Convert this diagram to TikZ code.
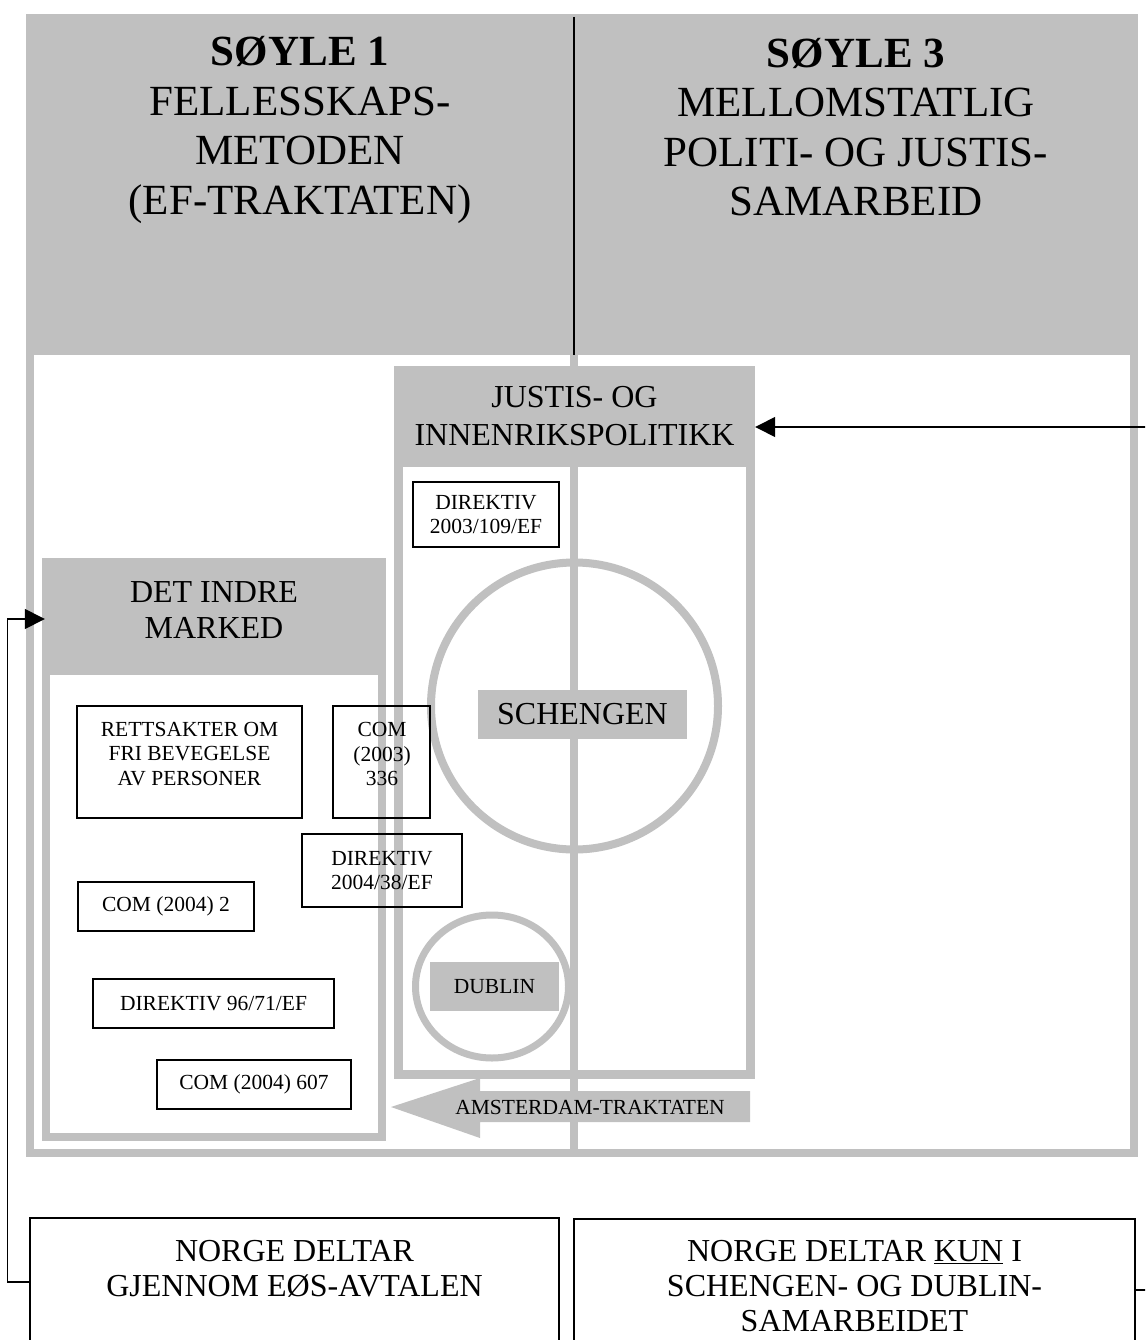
\documentclass[tikz,border=0pt]{standalone}
\usepackage{fontspec}
\setmainfont{Liberation Serif}
\usetikzlibrary{arrows.meta}
\definecolor{grayc}{HTML}{C0C0C0}
\begin{document}
\begin{tikzpicture}[x=1pt,y=-1pt,
  hdrtext/.style={align=center, font=\fontsize{43}{49.5}\selectfont, inner sep=0pt},
  midtext/.style={align=center, font=\fontsize{32}{36}\selectfont, inner sep=0pt},
  smalltext/.style={align=center, font=\fontsize{21.5}{24.5}\selectfont, inner sep=0pt},
  smallbox/.style={draw=black, line width=1.4pt, inner sep=0pt, smalltext},
  graylabel/.style={fill=grayc, inner sep=0pt},
  bigbox/.style={draw=black, line width=1.4pt, inner sep=0pt},
  gframe/.style={draw=grayc, line width=8pt},
  conn/.style={draw=black, line width=1.5pt, -{Triangle[length=20pt,width=20pt]}},
]
\clip (0,0) rectangle (1145,1340);
\fill[white] (0,0) rectangle (1145,1340);
% outer frame and top band
\draw[gframe] (30,30) rectangle (1134,1153);
\fill[grayc] (26,14) rectangle (1138,355);
\draw[gframe] (574,355) -- (574,1157);
\draw[black, line width=2pt] (574,17) -- (574,355);
\node[hdrtext] (s1) at (300,130) {\textbf{SØYLE 1}\\FELLESSKAPS-\\METODEN\\(EF-TRAKTATEN)};
\node[hdrtext] (s3) at (856,127) {\textbf{SØYLE 3}\\MELLOMSTATLIG\\POLITI- OG JUSTIS-\\SAMARBEID};
% det indre marked
\draw[gframe] (46,562) rectangle (382,1137);
\node[graylabel, minimum width=344pt, minimum height=117pt] (dimhead) at (214,616.5) {};
\node[midtext] (dimtxt) at (214,610) {DET INDRE\\MARKED};
% justis
\draw[gframe, line width=9pt] (398.5,370) rectangle (750.5,1074);
\node[graylabel, midtext, minimum width=361pt, minimum height=101pt, font=\fontsize{32}{38}\selectfont] (jhead) at (574.5,416.5) {JUSTIS- OG\\INNENRIKSPOLITIKK};
% circles
\draw[gframe] (574.5,706) circle[radius=143.5pt];
\draw[gframe, line width=7pt] (492,986.5) ellipse[x radius=76.5pt, y radius=71.5pt];
\node[graylabel, minimum width=209pt, minimum height=49pt, font=\fontsize{32}{36}\selectfont] (scheng) at (582.5,714.5) {SCHENGEN};
\node[graylabel, minimum width=129pt, minimum height=49pt, font=\fontsize{21.5}{24.5}\selectfont] (dublin) at (494.5,986.5) {DUBLIN};
% small boxes
\node[smallbox, minimum width=146pt, minimum height=65pt] (d2003) at (486,514.5) {DIREKTIV\\2003/109/EF};
\node[bigbox, minimum width=225pt, minimum height=112pt] (rett) at (189.5,762) {};
\node[smalltext] (retttxt) at (189.5,754) {RETTSAKTER OM\\FRI BEVEGELSE\\AV PERSONER};
\node[bigbox, minimum width=97pt, minimum height=112pt] (com336) at (381.5,762) {};
\node[smalltext] (com336txt) at (382,754) {COM\\(2003)\\336};
\node[smallbox, minimum width=160pt, minimum height=73pt] (d2004) at (382,870.5) {DIREKTIV\\2004/38/EF};
\node[smallbox, minimum width=176pt, minimum height=49pt] (com2) at (166,906.5) {COM (2004) 2};
\node[smallbox, minimum width=241pt, minimum height=49pt] (d96) at (213.5,1003.5) {DIREKTIV 96/71/EF};
\node[smallbox, minimum width=194pt, minimum height=49pt] (com607) at (254,1084.5) {COM (2004) 607};
% amsterdam arrow
\fill[grayc] (391,1107) -- (480,1078) -- (480,1091) -- (750,1091) -- (750,1122) -- (480,1122) -- (480,1138) -- cycle;
\node[smalltext] (amst) at (590,1107) {AMSTERDAM-TRAKTATEN};
% bottom boxes
\node[bigbox, minimum width=529pt, minimum height=128pt] (norgeA) at (294.5,1282) {};
\node[midtext, font=\fontsize{32}{35}\selectfont] (norgeAtxt) at (294.5,1268.5) {NORGE DELTAR\\GJENNOM EØS-AVTALEN};
\node[bigbox, minimum width=561pt, minimum height=142pt] (norgeB) at (854.5,1290) {};
\node[midtext, font=\fontsize{32}{35}\selectfont] (norgeBtxt) at (854.5,1286) {NORGE DELTAR \underline{KUN} I\\SCHENGEN- OG DUBLIN-\\SAMARBEIDET};
% connectors
\draw[conn] (norgeA.west) -- ++(-22,0) |- ([shift={(3pt,-2.5pt)}]dimhead.west);
\draw[conn] (norgeB.east) -- ++(40,0) |- ([yshift=-10.5pt]jhead.east);
\end{tikzpicture}
\end{document}
